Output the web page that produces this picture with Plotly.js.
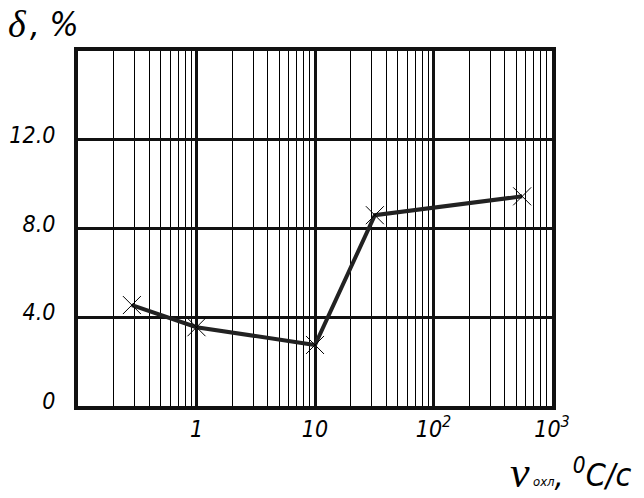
<!DOCTYPE html>
<html>
<head>
<meta charset="utf-8">
<script src="https://cdn.plot.ly/plotly-3.0.1.min.js"></script>
<style>html,body{margin:0;padding:0;background:#fff;}#chart{width:644px;height:498px;}</style>
</head>
<body>
<div id="chart"></div>
<script>
// Data
var coolingRate = [0.285, 1, 10, 32, 560];      // v охл, °C/c (log scale)
var delta = [4.55, 3.55, 2.75, 8.6, 9.45];      // δ, %

var xTickVals = [1, 10, 100, 1000];
var xTickText = ['1', '10', '10<sup>2</sup>', '10<sup>3</sup>'];
var yTickVals = [0, 4, 8, 12];
var yTickText = ['0', '4.0', '8.0', '12.0'];

// minor log grid (2..9 in every decade)
var minorVals = [];
[0.1, 1, 10, 100].forEach(function (d) {
  for (var k = 2; k <= 9; k++) minorVals.push(+(k * d).toPrecision(3));
});

var narrow = '"DejaVu Sans Condensed", "Liberation Sans Narrow", "Liberation Sans", sans-serif';
var serif = '"Liberation Serif", "DejaVu Serif", serif';

var trace = {
  x: coolingRate,
  y: delta,
  type: 'scatter',
  mode: 'lines+markers',
  line: {color: '#222', width: 4},
  marker: {symbol: 'x-thin-open', size: 18, color: '#000', line: {color: '#000', width: 1}},
  cliponaxis: false,
  showlegend: false
};

var layout = {
  width: 644,
  height: 498,
  margin: {l: 78, r: 92, t: 51, b: 92},
  paper_bgcolor: '#fff',
  plot_bgcolor: '#fff',
  font: {family: narrow, style: 'italic', color: '#000'},
  xaxis: {
    type: 'log',
    range: [-1, 3],
    tickmode: 'array',
    tickvals: xTickVals,
    ticktext: xTickText,
    showgrid: true,
    gridcolor: '#111',
    gridwidth: 3,
    ticks: '',
    showline: true,
    mirror: true,
    linecolor: '#111',
    linewidth: 4,
    zeroline: false,
    tickfont: {family: narrow, size: 23, style: 'italic', color: '#000'},
    ticklabelstandoff: -1,
    minor: {
      tickmode: 'array',
      tickvals: minorVals,
      showgrid: true,
      gridcolor: '#000',
      gridwidth: 1,
      ticks: ''
    }
  },
  yaxis: {
    range: [0, 16],
    tickmode: 'array',
    tickvals: yTickVals,
    ticktext: yTickText,
    showgrid: true,
    gridcolor: '#111',
    gridwidth: 3,
    ticks: '',
    showline: true,
    mirror: true,
    linecolor: '#111',
    linewidth: 4,
    zeroline: false,
    tickfont: {family: narrow, size: 23, style: 'italic', color: '#000'},
    ticklabelstandoff: 14,
    ticklabelshift: -5
  },
  annotations: [
    {
      xref: 'paper', yref: 'paper',
      x: -0.152, y: 1.075, xanchor: 'left', yanchor: 'middle',
      showarrow: false,
      text: 'δ',
      font: {family: serif, size: 38, style: 'italic', color: '#000'}
    },
    {
      xref: 'paper', yref: 'paper',
      x: -0.105, y: 1.075, xanchor: 'left', yanchor: 'middle',
      showarrow: false,
      text: ', %',
      font: {family: narrow, size: 34, style: 'italic', color: '#000'}
    },
    {
      xref: 'paper', yref: 'paper',
      x: 0.958, y: -0.188, xanchor: 'right', yanchor: 'middle',
      showarrow: false,
      text: 'v',
      font: {family: serif, size: 44, style: 'italic', color: '#000'}
    },
    {
      xref: 'paper', yref: 'paper',
      x: 0.956, y: -0.19, xanchor: 'left', yanchor: 'middle',
      showarrow: false,
      text: '<span style="font-size:13px">охл</span>, <sup>0</sup>C/с',
      font: {family: narrow, size: 32, style: 'italic', color: '#000'}
    }
  ]
};

Plotly.newPlot('chart', [trace], layout, {displayModeBar: false, staticPlot: true});
</script>
</body>
</html>
